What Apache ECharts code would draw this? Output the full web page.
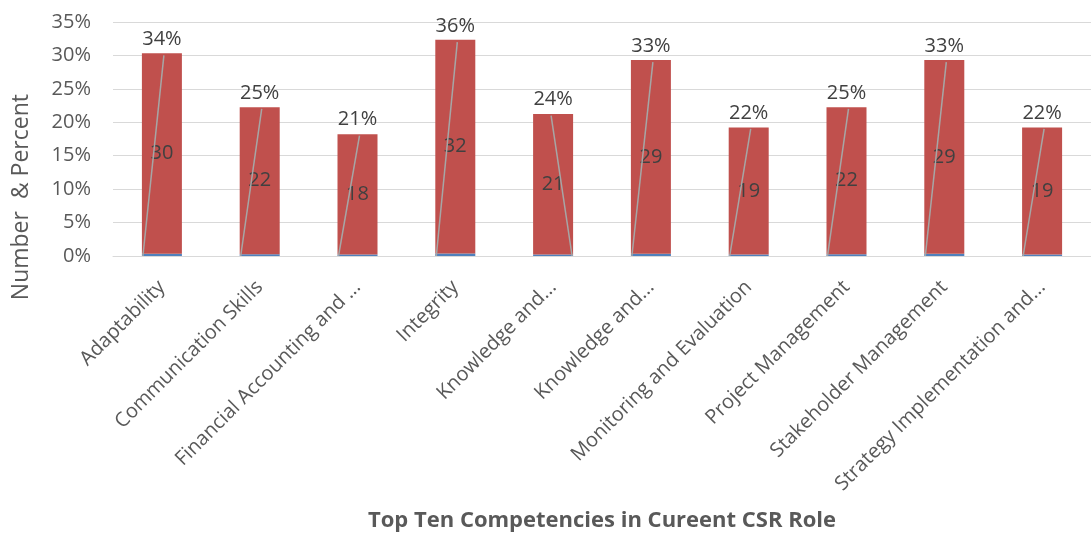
<!DOCTYPE html>
<html>
<head>
<meta charset="utf-8">
<title>Top Ten Competencies in Cureent CSR Role</title>
<script src="https://cdn.jsdelivr.net/npm/echarts@6/dist/echarts.min.js"></script>
<style>
  html, body { margin: 0; padding: 0; background: #fff; }
  #chart { width: 1091px; height: 533px; }
</style>
</head>
<body>
<div id="chart"></div>
<script>
// data
const competencies = [
  'Adaptability',
  'Communication Skills',
  'Financial Accounting and ...',
  'Integrity',
  'Knowledge and...',
  'Knowledge and...',
  'Monitoring and Evaluation',
  'Project Management',
  'Stakeholder Management',
  'Strategy Implementation and...'
];
const numbers = [30, 22, 18, 32, 21, 29, 19, 22, 29, 19];
const percents = [34, 25, 21, 36, 24, 33, 22, 25, 33, 22];

const FONT = '"Open Sans", "Liberation Sans", sans-serif';
const chart = echarts.init(document.getElementById('chart'));

chart.setOption({
  animation: false,
  textStyle: { fontFamily: FONT },
  grid: { left: 113, right: -5, top: 22, bottom: 277, containLabel: false },
  xAxis: {
    type: 'category',
    data: competencies,
    axisLine: { lineStyle: { color: '#d9d9d9', width: 1 } },
    axisTick: { show: false },
    axisLabel: {
      interval: 0,
      rotate: 45,
      margin: 28,
      fontSize: 20,
      color: '#595959',
      fontFamily: FONT
    },
    name: 'Top Ten Competencies in Cureent CSR Role',
    nameLocation: 'middle',
    nameGap: 254,
    nameTextStyle: { fontSize: 22, fontWeight: 'bold', color: '#595959', fontFamily: FONT }
  },
  yAxis: {
    type: 'value',
    min: 0,
    max: 35,
    interval: 5,
    axisLine: { show: false },
    axisTick: { show: false },
    axisLabel: {
      formatter: '{value}%',
      fontSize: 20,
      color: '#595959',
      margin: 22,
      fontFamily: FONT
    },
    splitLine: { lineStyle: { color: '#d9d9d9', width: 1 } }
  },
  graphic: [{
    type: 'text',
    left: 10,
    top: 94,
    rotation: Math.PI / 2,
    style: {
      text: 'Number  & Percent',
      font: '23px ' + FONT,
      fill: '#595959'
    }
  }],
  series: [
    {
      name: 'Percent',
      type: 'bar',
      stack: 'total',
      barWidth: 40,
      itemStyle: { color: '#4f81bd' },
      data: percents.map(p => p / 100)
    },
    {
      name: 'Number',
      type: 'bar',
      stack: 'total',
      barWidth: 40,
      itemStyle: { color: '#c0504d' },
      label: {
        show: true,
        position: 'inside',
        fontSize: 20,
        color: '#404040',
        fontFamily: FONT
      },
      data: numbers
    },
    {
      // leader lines and moved percent labels
      name: 'Labels',
      type: 'custom',
      z: 5,
      encode: { x: 0, y: 1 },
      data: numbers.map((n, i) => [i, n, percents[i]]),
      renderItem: function (params, api) {
        const i = api.value(0);
        const top = api.coord([i, api.value(1)]);
        const base = api.coord([i, 0]);
        const fromRight = i === 4;
        return {
          type: 'group',
          children: [
            {
              type: 'line',
              shape: {
                x1: base[0] + (fromRight ? 19 : -19),
                y1: base[1],
                x2: top[0] + (fromRight ? -2 : 2),
                y2: top[1]
              },
              style: { stroke: '#a6a6a6', lineWidth: 1.5 }
            },
            {
              type: 'text',
              x: top[0],
              y: top[1] - 6,
              style: {
                text: api.value(2) + '%',
                font: '20px ' + FONT,
                fill: '#404040',
                align: 'center',
                verticalAlign: 'bottom'
              }
            }
          ]
        };
      }
    }
  ]
});
</script>
</body>
</html>
